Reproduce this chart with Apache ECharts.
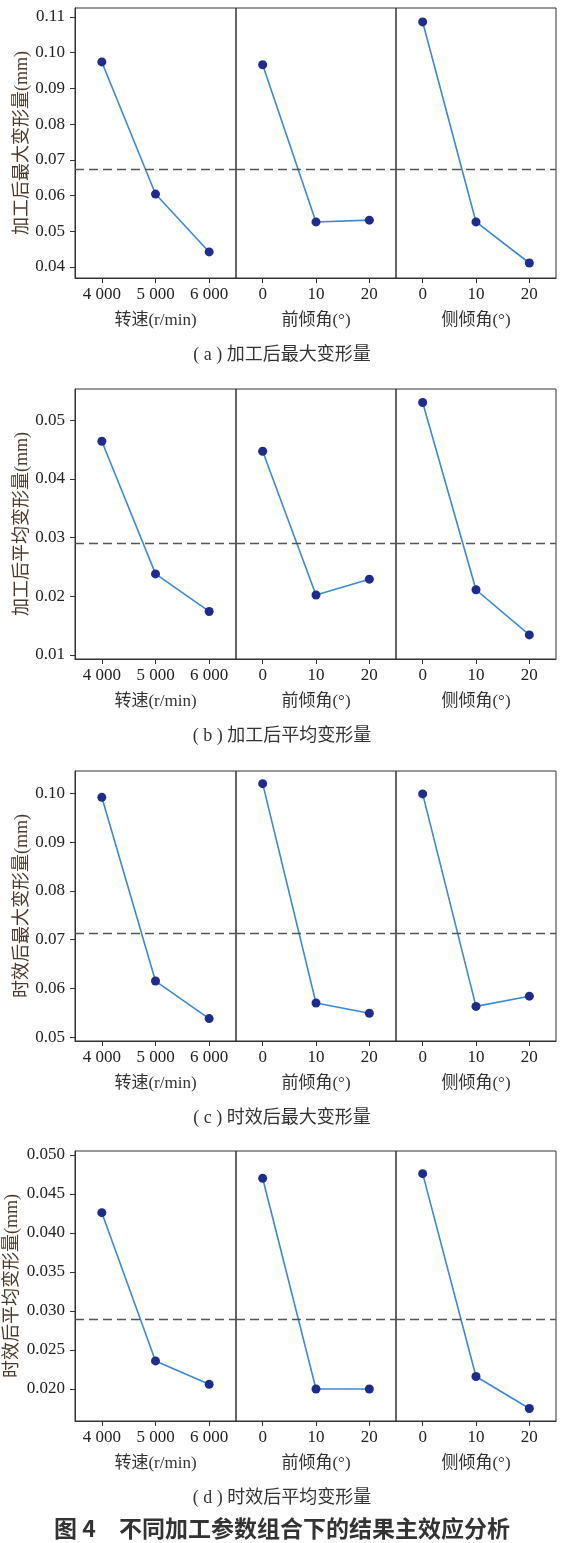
<!DOCTYPE html>
<html>
<head>
<meta charset="utf-8">
<script src="https://cdn.jsdelivr.net/npm/echarts@6/dist/echarts.min.js"></script>
<style>
  html, body { margin: 0; padding: 0; background: #fff; }
  #main { width: 564px; height: 1543px; }
</style>
</head>
<body>
<div id="main"></div>
<script>
// 因子及水平
var factorNames = ['转速(r/min)', '前倾角(°)', '侧倾角(°)'];
var factorLevels = [
    ['4 000', '5 000', '6 000'],
    ['0', '10', '20'],
    ['0', '10', '20']
];

// 各响应的主效应均值（每行对应一个因子的三个水平）
var maxAfterMachining = [
    [0.0974, 0.0604, 0.0442],
    [0.0966, 0.0526, 0.0531],
    [0.1086, 0.0526, 0.0411]
];
var avgAfterMachining = [
    [0.0464, 0.0238, 0.0174],
    [0.0447, 0.0202, 0.0229],
    [0.0530, 0.0211, 0.0134]
];
var maxAfterAging = [
    [0.0992, 0.0615, 0.0538],
    [0.1020, 0.0570, 0.0549],
    [0.0999, 0.0563, 0.0584]
];
var avgAfterAging = [
    [0.0426, 0.0236, 0.0206],
    [0.0470, 0.0200, 0.0200],
    [0.0476, 0.0216, 0.0175]
];

// 总均值（虚线）
var grandMeans = [0.0674, 0.0291, 0.0714, 0.0289];

// 纵轴刻度
var yTicksA = [0.04, 0.05, 0.06, 0.07, 0.08, 0.09, 0.10, 0.11];
var yTicksB = [0.01, 0.02, 0.03, 0.04, 0.05];
var yTicksC = [0.05, 0.06, 0.07, 0.08, 0.09, 0.10];
var yTicksD = [0.020, 0.025, 0.030, 0.035, 0.040, 0.045, 0.050];

var yNames = ['加工后最大变形量(mm)', '加工后平均变形量(mm)', '时效后最大变形量(mm)', '时效后平均变形量(mm)'];
var captions = ['( a ) 加工后最大变形量', '( b ) 加工后平均变形量', '( c ) 时效后最大变形量', '( d ) 时效后平均变形量'];

var panels = [
    {data: maxAfterMachining, ticks: yTicksA, min: 0.0369, max: 0.1125, dec: 2, top: 8, gap: 44},
    {data: avgAfterMachining, ticks: yTicksB, min: 0.0093, max: 0.0553, dec: 2, top: 389, gap: 44},
    {data: maxAfterAging, ticks: yTicksC, min: 0.0492, max: 0.1046, dec: 2, top: 771, gap: 44},
    {data: avgAfterAging, ticks: yTicksD, min: 0.0159, max: 0.0505, dec: 3, top: 1151, gap: 54}
];

var serif = '"Liberation Serif", "Noto Sans CJK SC", serif';
var gridLefts = [75, 236, 396];
var gridWidths = [161, 160, 160];
var plotH = 270;

var grids = [], xAxes = [], yAxes = [], series = [], titles = [];

panels.forEach(function (p, pi) {
    for (var f = 0; f < 3; f++) {
        var idx = pi * 3 + f;
        grids.push({
            left: gridLefts[f], top: p.top, width: gridWidths[f], height: plotH,
            outerBoundsMode: 'none', containLabel: false,
            show: true, borderColor: '#333', borderWidth: 1, backgroundColor: 'transparent'
        });
        xAxes.push({
            type: 'category', gridIndex: idx, data: factorLevels[f], boundaryGap: true,
            name: factorNames[f], nameLocation: 'middle', nameGap: 34,
            nameTextStyle: {fontFamily: serif, fontSize: 17, color: '#333'},
            axisLine: {show: true, lineStyle: {color: '#333'}},
            axisTick: {show: true, alignWithLabel: true, length: 5, lineStyle: {color: '#333'}},
            axisLabel: {fontFamily: serif, fontSize: 17, color: '#222', margin: 8},
            splitLine: {show: false}
        });
        yAxes.push({
            type: 'value', gridIndex: idx, min: p.min, max: p.max,
            name: f === 0 ? yNames[pi] : '', nameLocation: 'middle', nameGap: p.gap,
            nameTextStyle: {fontFamily: serif, fontSize: 18, color: '#4a3a2c'},
            axisLine: {show: f === 0, lineStyle: {color: '#333'}},
            axisTick: {show: f === 0, length: 5, customValues: p.ticks, lineStyle: {color: '#333'}},
            axisLabel: {
                show: f === 0, customValues: p.ticks, fontFamily: serif, fontSize: 17, color: '#222', margin: 10,
                formatter: (function (d) { return function (v) { return v.toFixed(d); }; })(p.dec)
            },
            splitLine: {show: false}
        });
        series.push({
            type: 'line', xAxisIndex: idx, yAxisIndex: idx, data: p.data[f],
            symbol: 'circle', symbolSize: 9,
            itemStyle: {color: '#1f2b8e'},
            lineStyle: {color: '#3a8ad6', width: 1.6},
            silent: true, animation: false,
            markLine: {
                silent: true, precision: 6, symbol: ['none', 'none'], label: {show: false},
                lineStyle: {type: [9, 5], color: '#555', width: 1.3},
                data: [{yAxis: grandMeans[pi]}]
            }
        });
    }
    titles.push({
        text: captions[pi], left: 'center', top: p.top + 333,
        textStyle: {fontFamily: serif, fontSize: 18, fontWeight: 'normal', color: '#333'}
    });
});

titles.push({
    text: '图 4　不同加工参数组合下的结果主效应分析', left: 'center', top: 1512,
    textStyle: {fontFamily: '"Noto Sans CJK SC", sans-serif', fontSize: 23, fontWeight: 'bold', color: '#333'}
});

var myChart = echarts.init(document.getElementById('main'));
myChart.setOption({
    animation: false,
    backgroundColor: '#fff',
    title: titles,
    grid: grids,
    xAxis: xAxes,
    yAxis: yAxes,
    series: series
});
</script>
</body>
</html>
